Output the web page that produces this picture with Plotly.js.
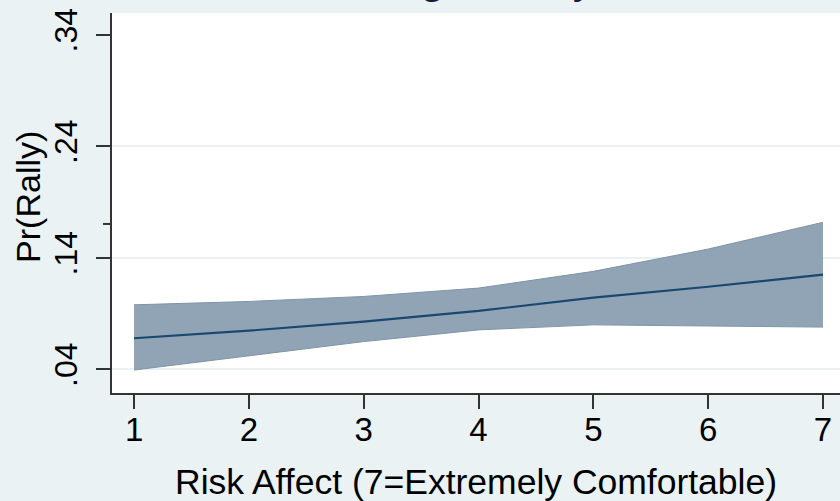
<!DOCTYPE html>
<html>
<head>
<meta charset="utf-8">
<script src="https://cdn.plot.ly/plotly-3.0.1.min.js"></script>
<style>html,body{margin:0;padding:0;background:#eaf2f3;}#chart{width:840px;height:501px;}</style>
</head>
<body>
<div id="chart"></div>
<script>
// Data
const riskAffect = [1, 2, 3, 4, 5, 6, 7];
const prRally    = [0.068, 0.0748, 0.083, 0.0925, 0.1045, 0.1142, 0.125];
const upperCI    = [0.098, 0.101, 0.1055, 0.113, 0.128, 0.148, 0.172];
const lowerCI    = [0.0395, 0.052, 0.065, 0.0755, 0.080, 0.079, 0.078];
const yTickVals  = [0.04, 0.14, 0.24, 0.34];
const yTickText  = ['.04', '.14', '.24', '.34'];
const xTickVals  = [1, 2, 3, 4, 5, 6, 7];

const FONT = 'Liberation Sans, Arial, sans-serif';
const bandFill = 'rgb(145,164,182)';
const bandEdge = 'rgb(128,148,168)';
const navy = '#1a476f';

const traces = [
  {x: riskAffect, y: lowerCI, type: 'scatter', mode: 'lines',
   line: {color: bandEdge, width: 1}, hoverinfo: 'skip', showlegend: false},
  {x: riskAffect, y: upperCI, type: 'scatter', mode: 'lines', fill: 'tonexty',
   fillcolor: bandFill, line: {color: bandEdge, width: 1}, showlegend: false},
  {x: riskAffect, y: prRally, type: 'scatter', mode: 'lines',
   line: {color: navy, width: 2.2}, showlegend: false}
];

const layout = {
  width: 840, height: 501,
  margin: {l: 112, r: 0, t: 13, b: 108, pad: 0},
  paper_bgcolor: '#eaf2f3',
  plot_bgcolor: '#ffffff',
  showlegend: false,
  font: {family: FONT, color: '#000'},
  xaxis: {
    range: [0.808, 7.148], tickmode: 'array', tickvals: xTickVals,
    ticks: 'outside', ticklen: 14, tickwidth: 2, tickcolor: '#333',
    showline: true, linecolor: '#333', linewidth: 2,
    showgrid: false, zeroline: false,
    ticklabelstandoff: -8,
    tickfont: {family: FONT, size: 33, color: '#000'}
  },
  yaxis: {
    range: [0.0189, 0.3597], tickmode: 'array', tickvals: yTickVals, ticktext: yTickText,
    tickangle: -90,
    ticks: 'outside', ticklen: 14, tickwidth: 2, tickcolor: '#333',
    showline: true, linecolor: '#333', linewidth: 2,
    showgrid: false, zeroline: false,
    tickfont: {family: FONT, size: 32, color: '#000'},
    ticklabelstandoff: 6,
    minor: {tickmode: 'array', tickvals: [0.04, 0.14, 0.24], showgrid: true,
            gridcolor: '#eaf2f3', gridwidth: 2, ticks: ''}
  },
  shapes: [
    {type: 'line', xref: 'paper', yref: 'y', x0: -0.0124, x1: 0, y0: 0.1705, y1: 0.1705,
     line: {color: '#333', width: 2}}
  ],
  annotations: [
    {text: 'Risk Affect (7=Extremely Comfortable)', xref: 'paper', yref: 'paper',
     x: 0.5, y: -0.233, xanchor: 'center', yanchor: 'middle', showarrow: false,
     font: {family: FONT, size: 35.5, color: '#000'}},
    {text: 'Pr(Rally)', xref: 'paper', yref: 'paper', textangle: -90,
     x: -0.1154, y: 0.516, xanchor: 'center', yanchor: 'middle', showarrow: false,
     font: {family: FONT, size: 34, color: '#000'}},
    {text: 'Attending a Rally', xref: 'paper', yref: 'paper',
     x: 0.43, y: 1.0215, xanchor: 'center', yanchor: 'bottom', showarrow: false,
     font: {family: FONT, size: 45, color: '#1a1a3a'}}
  ]
};

Plotly.newPlot('chart', traces, layout, {displayModeBar: false, staticPlot: true});
</script>
</body>
</html>
